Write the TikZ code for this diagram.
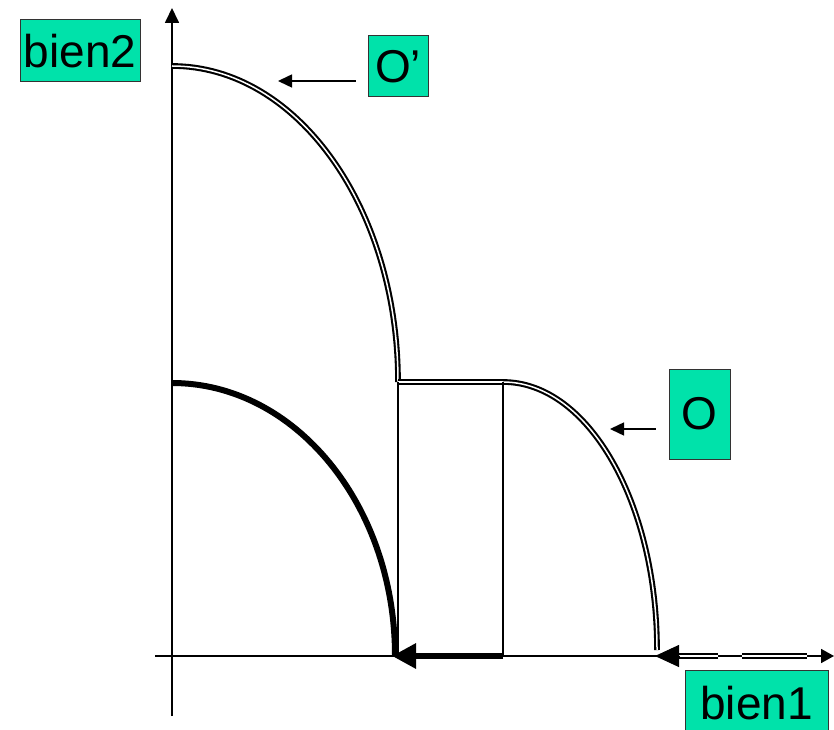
\documentclass[tikz,border=0pt]{standalone}
\usepackage{fontspec}
\setmainfont{Liberation Sans}
\usetikzlibrary{arrows.meta}
\definecolor{lblgreen}{RGB}{0,226,170}
\begin{document}
\begin{tikzpicture}[x=1pt,y=1pt,
  lbl/.style={draw=black!80, line width=1pt, fill=lblgreen, inner sep=0pt, font=\fontsize{46}{50}\selectfont},
  axis/.style={line width=1.7pt},
  dbl/.style={double, line width=2.1pt, double distance=1.5pt},
  ptr/.style={line width=1.5pt, -{Triangle[length=14pt,width=13pt]}}]
\useasboundingbox (0,0) rectangle (834,729);
% axes
\coordinate (yb) at (172,13);
\coordinate (yt) at (172,721);
\coordinate (xl) at (155,73);
\coordinate (xr) at (834,73);
\draw[axis,-{Triangle[length=15pt,width=14pt]}] (yb) -- (yt);
\draw[axis,-{Triangle[length=13pt,width=14pt]}] (xl) -- (xr);
% thick inner curve
\coordinate (a0) at (172,346);
\draw[line width=6pt] (a0) arc[start angle=90,end angle=0,x radius=223,y radius=273];
% O' curve, flat part, O curve
\coordinate (b0) at (172,663);
\coordinate (b1) at (398,347);
\coordinate (b2) at (503,347);
\draw[dbl] (b0) arc[start angle=90,end angle=0,x radius=226,y radius=316];
\draw[dbl] (b1) -- (b2);
\draw[dbl] (b2) arc[start angle=90,end angle=0,x radius=154,y radius=268];
% vertical thin lines
\coordinate (v1) at (398,73);
\coordinate (v2) at (503,73);
\draw[line width=1.7pt] (b1) -- (v1);
\draw[line width=1.7pt] (b2) -- (v2);
% thick arrow
\coordinate (t0) at (503,73);
\coordinate (t1) at (392,73);
\draw[line width=6pt,-{Triangle[length=24pt,width=24pt]}] (t0) -- (t1);
% dashed double arrow
\coordinate (d0) at (807,73);
\coordinate (d0a) at (742,73);
\coordinate (d1a) at (718,73);
\coordinate (d1) at (678,73);
\coordinate (d2) at (655,73);
\draw[dbl] (d0) -- (d0a);
\draw[dbl] (d1a) -- (d1);
\draw[line width=1pt,-{Triangle[length=24pt,width=22pt]}] (d1) ++(2,0) -- (d2);
% labels
\node[lbl, minimum width=120pt, minimum height=62pt] (bien2) at (80,678) {bien2};
\node[lbl, minimum width=60pt, minimum height=61pt] (Op) at (398,662.5) {O’};
\node[lbl, minimum width=61pt, minimum height=90pt] (O) at (699.5,315) {O};
\node[lbl, minimum width=143pt, minimum height=66pt] (bien1) at (756.5,26) {bien1};
% pointers
\coordinate (p1) at (278,648);
\coordinate (p2) at (610,300);
\draw[ptr] (Op.west) ++(-12,-14.5) -- (p1);
\draw[ptr] (O.west) ++(-13,-15) -- (p2);
\end{tikzpicture}
\end{document}
